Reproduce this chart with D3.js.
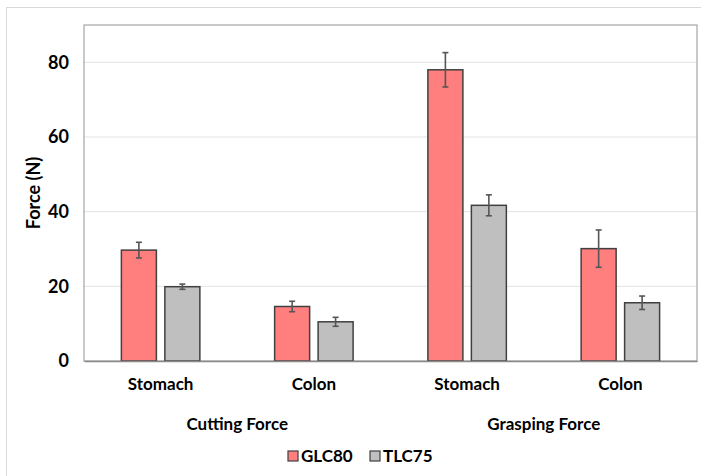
<!DOCTYPE html>
<html><head><meta charset="utf-8">
<script src="https://cdn.jsdelivr.net/npm/d3@7"></script>
<style>body{margin:0;background:#fff}svg{display:block}text{font-family:Lato,"Open Sans",sans-serif;font-weight:bold;fill:#000}</style>
</head><body><svg id="c" width="701" height="476"></svg>
<script>
const categories = ["Cutting|Stomach","Cutting|Colon","Grasping|Stomach","Grasping|Colon"];
const categoryLabels = ["Stomach","Colon","Stomach","Colon"];
const groupLabels = ["Cutting Force","Grasping Force"];
const seriesNames = ["GLC80","TLC75"];
const glc80 = [29.7, 14.6, 78.0, 30.1];
const glc80Err = [2.1, 1.4, 4.6, 5.0];
const tlc75 = [19.9, 10.5, 41.7, 15.6];
const tlc75Err = [0.7, 1.2, 2.8, 1.8];
const yTicks = [0,20,40,60,80];
const colors = ["#FF7F7F","#BFBFBF"];

const svg = d3.select("#c");
const L=84, R=697, T=25, B=361;
svg.append("rect").attr("x",6.5).attr("y",7.5).attr("width",705).attr("height",480)
  .attr("fill","none").attr("stroke","#d9d9d9");

const y = d3.scaleLinear().domain([0,90]).range([B,T]);
const x0 = d3.scaleBand().domain(categories).range([L,R]);
const x1 = d3.scaleBand().domain(seriesNames).range([0,x0.bandwidth()]).paddingInner(0.195).paddingOuter(0.86);

// grid
svg.append("g").selectAll("line").data(yTicks.filter(d=>d>0)).join("line")
  .attr("x1",L).attr("x2",R).attr("y1",d=>y(d)).attr("y2",d=>y(d))
  .attr("stroke","#e3e3e3").attr("stroke-width",1);
// plot frame
svg.append("rect").attr("x",L).attr("y",T).attr("width",R-L).attr("height",B-T)
  .attr("fill","none").attr("stroke","#a6a6a6").attr("stroke-width",1.2);

const data = categories.map((c,i)=>[
  {c, s:"GLC80", v:glc80[i], e:glc80Err[i]},
  {c, s:"TLC75", v:tlc75[i], e:tlc75Err[i]}
]).flat();

const g = svg.append("g");
g.selectAll("rect").data(data).join("rect")
  .attr("x",d=>x0(d.c)+x1(d.s)).attr("width",x1.bandwidth())
  .attr("y",d=>y(d.v)).attr("height",d=>y(0)-y(d.v))
  .attr("fill",d=>colors[seriesNames.indexOf(d.s)])
  .attr("stroke","#404040").attr("stroke-width",1.5);

// error bars
const eb = svg.append("g").attr("stroke","#555").attr("stroke-width",1.6);
data.forEach(d=>{
  const cx = x0(d.c)+x1(d.s)+x1.bandwidth()/2;
  eb.append("line").attr("x1",cx).attr("x2",cx).attr("y1",y(d.v+d.e)).attr("y2",y(d.v-d.e));
  [d.v+d.e,d.v-d.e].forEach(v=>eb.append("line").attr("x1",cx-3).attr("x2",cx+3).attr("y1",y(v)).attr("y2",y(v)));
});

// axes
const ya = d3.axisLeft(y).tickValues(yTicks).tickSize(0).tickPadding(15);
const yg = svg.append("g").attr("transform",`translate(${L},0)`).call(ya);
yg.select(".domain").remove();
yg.selectAll("text").attr("font-size",18).style("font-family","Lato, sans-serif").style("font-weight","bold").attr("fill","#000");

const xa = d3.axisBottom(x0).tickSize(0).tickPadding(17).tickFormat((d,i)=>categoryLabels[i]);
const xg = svg.append("g").attr("transform",`translate(0,${B})`).call(xa);
xg.select(".domain").attr("stroke","#898989").attr("stroke-width",1.3);
xg.selectAll("text").attr("font-size",17).style("font-family","Lato, sans-serif").style("font-weight","bold").attr("fill","#000");

// group labels
groupLabels.forEach((lab,i)=>{
  const cx = (x0(categories[2*i]) + x0(categories[2*i+1]) + x0.bandwidth())/2;
  svg.append("text").attr("x",cx).attr("y",430).attr("text-anchor","middle").attr("font-size",17).text(lab);
});

// y title
svg.append("text").attr("transform","translate(40,193) rotate(-90)").attr("text-anchor","middle")
  .attr("font-size",18).text("Force (N)");

// legend
const lg = svg.append("g");
const lx = [288,370];
seriesNames.forEach((s,i)=>{
  lg.append("rect").attr("x",lx[i]).attr("y",451).attr("width",10).attr("height",10)
    .attr("fill",colors[i]).attr("stroke","#404040").attr("stroke-width",1.2);
  lg.append("text").attr("x",lx[i]+13).attr("y",462).attr("font-size",17).text(s);
});
</script></body></html>
